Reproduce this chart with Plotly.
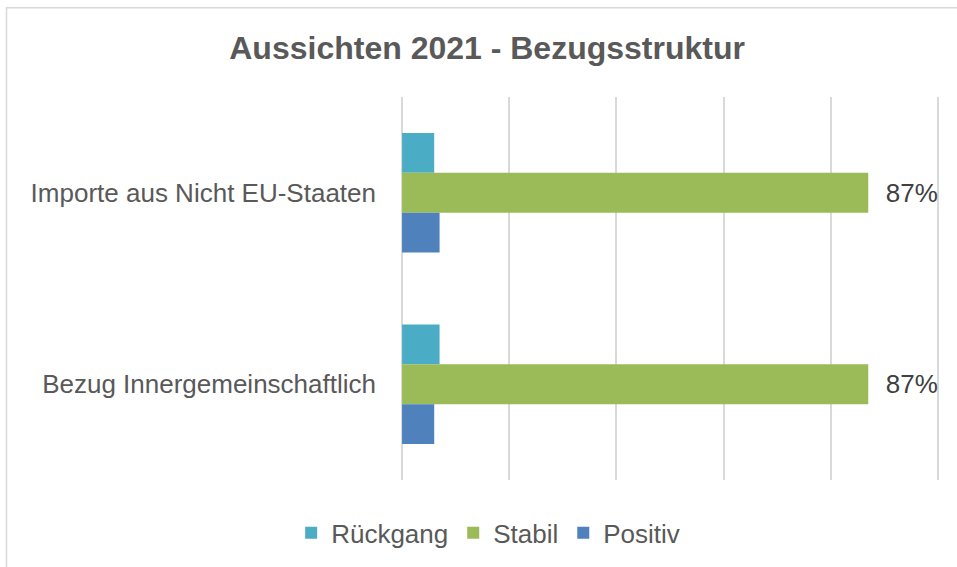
import plotly.graph_objects as go

categories = ["Importe aus Nicht EU-Staaten", "Bezug Innergemeinschaftlich"]
series_names = ["Rückgang", "Stabil", "Positiv"]
rueckgang = [0.06, 0.07]
stabil = [0.87, 0.87]
positiv = [0.07, 0.06]
colors = ["#4BACC6", "#9BBB59", "#4F81BD"]

FONT = "Liberation Sans, Arial, sans-serif"
TXT = "#595959"
FS = 26

fig = go.Figure()
for name, vals, col in zip(series_names, [rueckgang, stabil, positiv], colors):
    show_text = name == "Stabil"
    fig.add_trace(go.Bar(
        name=name, y=categories, x=vals, orientation="h",
        marker=dict(color=col, line=dict(width=0)),
        text=["  " + f"{v:.0%}" for v in vals] if show_text else None,
        textposition="outside" if show_text else "none",
        textfont=dict(family=FONT, size=FS, color="#404040"),
        constraintext="none", cliponaxis=False,
    ))

fig.update_layout(
    width=957, height=567,
    margin=dict(l=401, r=18, t=97, b=86),
    paper_bgcolor="white", plot_bgcolor="white",
    barmode="group", bargap=0.375, bargroupgap=0,
    font=dict(family=FONT, color=TXT),
    title=dict(text="<b>Aussichten 2021 - Bezugsstruktur</b>",
               x=0.509, xanchor="center", xref="container",
               y=0.915, yanchor="middle", yref="container",
               font=dict(size=32, color=TXT, family=FONT)),
    xaxis=dict(range=[-0.002, 1.002], tickvals=[0, 0.2, 0.4, 0.6, 0.8, 1.0],
               showticklabels=False,
               showgrid=True, gridcolor="#d9d9d9", gridwidth=1.5,
               zeroline=False, showline=False, fixedrange=True),
    yaxis=dict(autorange="reversed", showgrid=False, showline=False,
               ticks="", ticklabelstandoff=24,
               tickfont=dict(size=FS, color=TXT, family=FONT)),
    legend=dict(orientation="h", x=0.162, xanchor="center",
                y=-0.135, yanchor="middle",
                font=dict(size=FS, color=TXT, family=FONT),
                itemwidth=30, traceorder="normal"),
    showlegend=True,
    shapes=[dict(type="rect", xref="paper", yref="paper",
                 x0=-0.7333, x1=1.05, y0=-0.25, y1=1.233,
                 line=dict(color="#d9d9d9", width=1.5), layer="below")],
)

fig.write_html("out.html", config={"displayModeBar": False},
               post_script="document.body.style.margin='0';document.body.style.overflow='hidden';")
